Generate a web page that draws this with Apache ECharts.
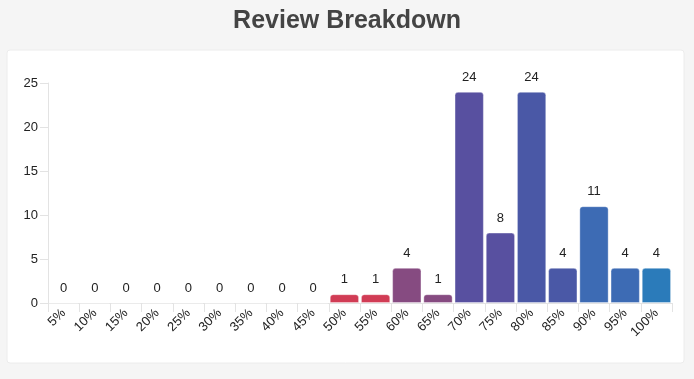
<!DOCTYPE html>
<html>
<head>
<meta charset="utf-8">
<script src="https://cdn.jsdelivr.net/npm/echarts@6/dist/echarts.min.js"></script>
<style>
html,body{margin:0;padding:0;background:#f5f5f5;}
#c{width:694px;height:379px;}
</style>
</head>
<body>
<div id="c"></div>
<script>
const categories = ['5%','10%','15%','20%','25%','30%','35%','40%','45%','50%','55%','60%','65%','70%','75%','80%','85%','90%','95%','100%'];
const values = [0,0,0,0,0,0,0,0,0,1,1,4,1,24,8,24,4,11,4,4];
const barColors = ['#d13c55','#d13c55','#d13c55','#d13c55','#d13c55','#d13c55','#d13c55','#d13c55','#d13c55','#d13c55','#d13c55','#864b81','#864b81','#5850a0','#5850a0','#4a58a6','#4a58a6','#3d6bb4','#3d6bb4','#2b7bba'];
const yTicks = {min:0, max:25, interval:5};

const FONT = 'Liberation Sans, Arial, sans-serif';
const chart = echarts.init(document.getElementById('c'), null, {renderer:'canvas'});
chart.setOption({
  backgroundColor:'#f5f5f5',
  title:{text:'Review Breakdown', left:'center', top:4,
    textStyle:{fontFamily:FONT, fontSize:25, fontWeight:'bold', color:'#444'}},
  graphic:[{type:'rect', shape:{x:7,y:50,width:677,height:313,r:3},
    style:{fill:'#fff', stroke:'#ececec', lineWidth:1}, z:-10, silent:true}],
  grid:{left:48, right:22, top:83, bottom:76},
  xAxis:{type:'category', data:categories,
    axisLine:{lineStyle:{color:'#e3e3e3'}},
    axisTick:{show:true, length:9, lineStyle:{color:'#e3e3e3'}},
    axisLabel:{rotate:45, color:'#222', fontSize:13, fontFamily:FONT, margin:8, interval:0}},
  yAxis:{type:'value', min:yTicks.min, max:yTicks.max, interval:yTicks.interval,
    axisLine:{show:true, lineStyle:{color:'#e3e3e3'}},
    axisTick:{show:true, length:8, lineStyle:{color:'#e3e3e3'}},
    splitLine:{show:false},
    axisLabel:{color:'#222', fontSize:13, fontFamily:FONT, margin:10}},
  series:[{type:'bar', barCategoryGap:'6%',
    data:values.map((v,i)=>({value:v, itemStyle:{color:barColors[i]}})),
    itemStyle:{borderRadius:[3,3,0,0], borderColor:'rgba(255,255,255,0.35)', borderWidth:1},
    label:{show:true, position:'top', distance:8, color:'#222', fontSize:13, fontFamily:FONT}}]
});
</script>
</body>
</html>
